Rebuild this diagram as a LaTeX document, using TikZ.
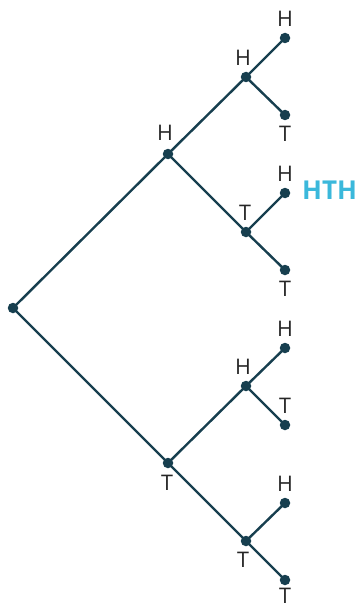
\documentclass[tikz,border=0pt]{standalone}
\usepackage{fontspec}
\setmainfont{Open Sans}
\definecolor{navy}{HTML}{173F4F}
\definecolor{hth}{HTML}{3BB8DB}
\begin{document}
\begin{tikzpicture}[x=1pt,y=-1pt,
  dot/.style={circle,fill=navy,inner sep=0pt,minimum size=10.5pt},
  edge/.style={draw=navy,line width=2.4pt},
  lbl/.style={inner sep=0pt,font=\fontsize{21.5}{21.5}\selectfont,text=black!85}]
\useasboundingbox (0,0) rectangle (356,607);
% nodes
\node[dot] (r) at (13,308) {};
\node[dot] (a) at (168,154) {};
\node[dot] (b) at (168,463) {};
\node[dot] (aa) at (246,77) {};
\node[dot] (ab) at (246,232) {};
\node[dot] (ba) at (246,386) {};
\node[dot] (bb) at (246,541) {};
\node[dot] (aaa) at (285,38) {};
\node[dot] (aab) at (285,115) {};
\node[dot] (aba) at (285,193) {};
\node[dot] (abb) at (285,270) {};
\node[dot] (baa) at (285,348) {};
\node[dot] (bab) at (285,425) {};
\node[dot] (bba) at (285,503) {};
\node[dot] (bbb) at (285,580) {};
% edges
\draw[edge] (r.center) -- (a.center);
\draw[edge] (r.center) -- (b.center);
\draw[edge] (a.center) -- (aa.center);
\draw[edge] (a.center) -- (ab.center);
\draw[edge] (b.center) -- (ba.center);
\draw[edge] (b.center) -- (bb.center);
\draw[edge] (aa.center) -- (aaa.center);
\draw[edge] (aa.center) -- (aab.center);
\draw[edge] (ab.center) -- (aba.center);
\draw[edge] (ab.center) -- (abb.center);
\draw[edge] (ba.center) -- (baa.center);
\draw[edge] (ba.center) -- (bab.center);
\draw[edge] (bb.center) -- (bba.center);
\draw[edge] (bb.center) -- (bbb.center);
% labels
\path (a) ++(-3,-21) node[lbl] (la) {H};
\path (b) ++(-1,20) node[lbl] (lb) {T};
\path (aa) ++(-3,-19) node[lbl] (laa) {H};
\path (ab) ++(-1,-19) node[lbl] (lab) {T};
\path (ba) ++(-3,-19) node[lbl] (lba) {H};
\path (bb) ++(-3,19) node[lbl] (lbb) {T};
\path (aaa) ++(0,-19) node[lbl] (laaa) {H};
\path (aab) ++(0,19) node[lbl] (laab) {T};
\path (aba) ++(0,-19) node[lbl] (laba) {H};
\path (abb) ++(0,19) node[lbl] (labb) {T};
\path (baa) ++(0,-19) node[lbl] (lbaa) {H};
\path (bab) ++(0,-19) node[lbl] (lbab) {T};
\path (bba) ++(0,-19) node[lbl] (lbba) {H};
\path (bbb) ++(0,16) node[lbl] (lbbb) {T};
\node[inner sep=0pt,anchor=west,text=hth,font=\bfseries\fontsize{26}{26}\selectfont] (res) at (302,190) {HTH};
\end{tikzpicture}
\end{document}
